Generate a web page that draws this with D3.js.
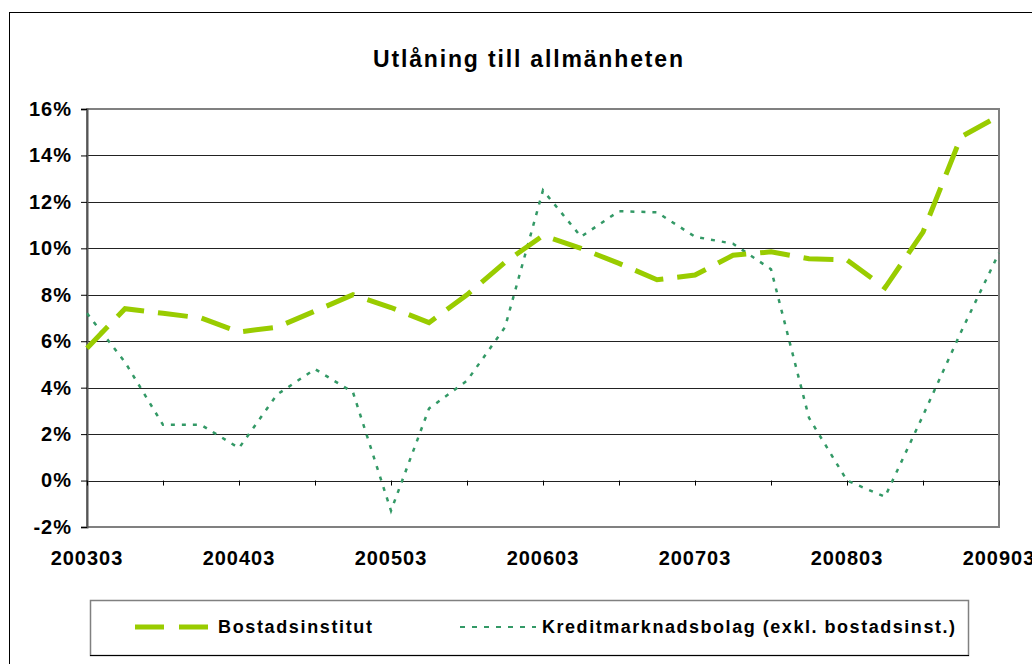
<!DOCTYPE html>
<html>
<head>
<meta charset="utf-8">
<script src="https://cdn.jsdelivr.net/npm/d3@7"></script>
<style>
  body { margin: 0; background: #fff; }
  text { font-family: "Liberation Sans", Arial, sans-serif; font-weight: bold; fill: #000; }
</style>
</head>
<body>
<div id="chart"></div>
<script>
// quarters on the category axis
const quarters = ["200303","200306","200309","200312","200403","200406","200409","200412",
  "200503","200506","200509","200512","200603","200606","200609","200612",
  "200703","200706","200709","200712","200803","200806","200809","200812","200903"];
const xLabels = ["200303","200403","200503","200603","200703","200803","200903"];
const yTicks = [-2, 0, 2, 4, 6, 8, 10, 12, 14, 16];

// growth in percent
const bostadsinstitut = [5.7, 7.4, 7.2, 7.0, 6.4, 6.6, 7.3, 8.0, 7.45, 6.8, 8.0, 9.4,
  10.55, 10.0, 9.35, 8.65, 8.85, 9.7, 9.85, 9.55, 9.5, 8.3, 10.7, 14.8, 15.7];
const kreditmarknadsbolag = [7.2, 5.1, 2.4, 2.4, 1.4, 3.7, 4.8, 3.8, -1.3, 3.1, 4.3, 6.6,
  12.5, 10.5, 11.6, 11.55, 10.5, 10.2, 9.1, 2.7, 0.0, -0.7, 2.8, 6.4, 9.8];

const width = 1032, height = 664;
const margin = {top: 109, right: 33, bottom: 137, left: 87};
const plotW = width - margin.left - margin.right,
  plotH = height - margin.top - margin.bottom;

const svg = d3.select("#chart").append("svg")
  .attr("width", width)
  .attr("height", height);

// chart area border
svg.append("rect")
  .attr("x", 9.5).attr("y", 12.5)
  .attr("width", 1040).attr("height", 700)
  .attr("fill", "none").attr("stroke", "#000");

svg.append("text")
  .attr("x", 528).attr("y", 67)
  .attr("text-anchor", "middle")
  .attr("font-size", 23)
  .attr("textLength", 310).attr("lengthAdjust", "spacing")
  .text("Utlåning till allmänheten");

const g = svg.append("g")
  .attr("transform", `translate(${margin.left},${margin.top})`);

const x = d3.scalePoint().domain(quarters).range([0, plotW]);
const y = d3.scaleLinear().domain([-2, 16]).range([plotH, 0]);

// gridlines
g.append("g")
  .selectAll("line")
  .data(yTicks)
  .join("line")
  .attr("x1", 0).attr("x2", plotW)
  .attr("y1", d => Math.round(y(d)) + 0.5)
  .attr("y2", d => Math.round(y(d)) + 0.5)
  .attr("stroke", "#222");

// plot area border
g.append("rect")
  .attr("width", plotW).attr("height", plotH)
  .attr("fill", "none")
  .attr("stroke", "#808080").attr("stroke-width", 2);

// y axis
const yAxis = g.append("g")
  .call(d3.axisLeft(y).tickValues(yTicks).tickFormat(d => d + "%").tickSize(6).tickPadding(9));
yAxis.select(".domain").attr("stroke", "#555").attr("stroke-width", 2);
yAxis.selectAll(".tick line").attr("stroke", "#000");
yAxis.selectAll("text")
  .attr("font-size", 20).attr("font-family", "Liberation Sans, Arial, sans-serif")
  .attr("letter-spacing", 1).attr("fill", "#000");

// category ticks on the 0% line
const tickQuarters = quarters.filter((q, i) => i % 2 === 0);
const xAxis = g.append("g")
  .attr("transform", `translate(0,${y(0)})`)
  .call(d3.axisBottom(x).tickValues(tickQuarters).tickSize(5).tickFormat(""));
xAxis.select(".domain").remove();
xAxis.selectAll(".tick line").attr("stroke", "#000");

// labels at the bottom
g.append("g")
  .selectAll("text")
  .data(xLabels)
  .join("text")
  .attr("x", d => x(d))
  .attr("y", plotH + 38)
  .attr("text-anchor", "middle")
  .attr("font-size", 20)
  .attr("letter-spacing", 1)
  .text(d => d);

const line = d3.line()
  .x((d, i) => x(quarters[i]))
  .y(d => y(d));

g.append("path")
  .datum(kreditmarknadsbolag)
  .attr("d", line)
  .attr("fill", "none")
  .attr("stroke", "#339966")
  .attr("stroke-width", 2.5)
  .attr("stroke-dasharray", "4,7");

g.append("path")
  .datum(bostadsinstitut)
  .attr("d", line)
  .attr("fill", "none")
  .attr("stroke", "#99cc00")
  .attr("stroke-width", 5)
  .attr("stroke-dasharray", "30,14");

// legend
const legend = svg.append("g");
legend.append("rect")
  .attr("x", 90.5).attr("y", 600.5)
  .attr("width", 878).attr("height", 55)
  .attr("fill", "#fff")
  .attr("stroke", "#808080").attr("stroke-width", 1.5);
legend.append("line")
  .attr("x1", 90).attr("x2", 969)
  .attr("y1", 655.5).attr("y2", 655.5)
  .attr("stroke", "#000");

legend.append("line")
  .attr("x1", 135).attr("x2", 208)
  .attr("y1", 627).attr("y2", 627)
  .attr("stroke", "#99cc00").attr("stroke-width", 5)
  .attr("stroke-dasharray", "29,15");
legend.append("text")
  .attr("x", 218).attr("y", 633)
  .attr("font-size", 18)
  .attr("textLength", 154).attr("lengthAdjust", "spacing")
  .text("Bostadsinstitut");

legend.append("line")
  .attr("x1", 460).attr("x2", 536)
  .attr("y1", 627).attr("y2", 627)
  .attr("stroke", "#339966").attr("stroke-width", 2)
  .attr("stroke-dasharray", "5,7");
legend.append("text")
  .attr("x", 542).attr("y", 633)
  .attr("font-size", 18)
  .attr("textLength", 413).attr("lengthAdjust", "spacing")
  .text("Kreditmarknadsbolag (exkl. bostadsinst.)");
</script>
</body>
</html>
